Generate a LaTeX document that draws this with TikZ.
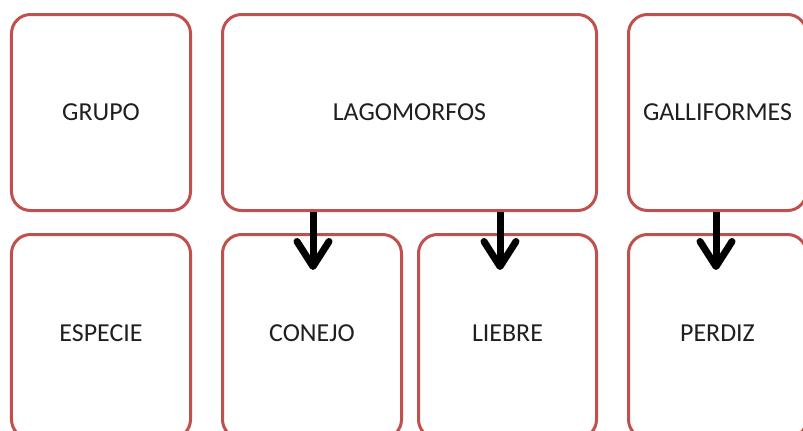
\documentclass[tikz,border=0pt]{standalone}
\usepackage{fontspec}
\setmainfont{Carlito}
\usetikzlibrary{arrows.meta}
\definecolor{boxred}{HTML}{C0504D}
\definecolor{txt}{HTML}{1F1F1F}
\tikzset{
  box/.style={draw=boxred, line width=3bp, rounded corners=19bp, fill=white,
    inner sep=0pt, font=\fontsize{26}{30}\selectfont, text=txt},
  lowbox/.style={box, minimum height=204bp, text height=17bp, text depth=8bp},
  bigarrow/.style={draw=black, line width=7bp,
    -{Straight Barb[length=25bp, width=32bp, round]}}
}
\begin{document}
\begin{tikzpicture}[x=1bp,y=-1bp]
\useasboundingbox (0,0) rectangle (803,430);
% top row
\node[box, minimum width=179bp, minimum height=196bp] (grupo) at (101,112.5) {GRUPO};
\node[box, minimum width=374bp, minimum height=196bp] (lago) at (409.5,112.5) {LAGOMORFOS};
\node[box, minimum width=178bp, minimum height=196bp] (galli) at (717.5,112.5) {GALLIFORMES};
% bottom row
\node[lowbox, minimum width=179bp] (especie) at (101,336.5) {ESPECIE};
\node[lowbox, minimum width=179bp] (conejo) at (312,336.5) {CONEJO};
\node[lowbox, minimum width=178bp] (liebre) at (507.5,336.5) {LIEBRE};
\node[lowbox, minimum width=178bp] (perdiz) at (717.5,336.5) {PERDIZ};
% arrow tips
\coordinate (t1) at (313,270);
\coordinate (t2) at (500,270);
\coordinate (t3) at (716,270);
\draw[bigarrow] (lago.south -| t1) -- (t1);
\draw[bigarrow] (lago.south -| t2) -- (t2);
\draw[bigarrow] (galli.south -| t3) -- (t3);
\end{tikzpicture}
\end{document}
